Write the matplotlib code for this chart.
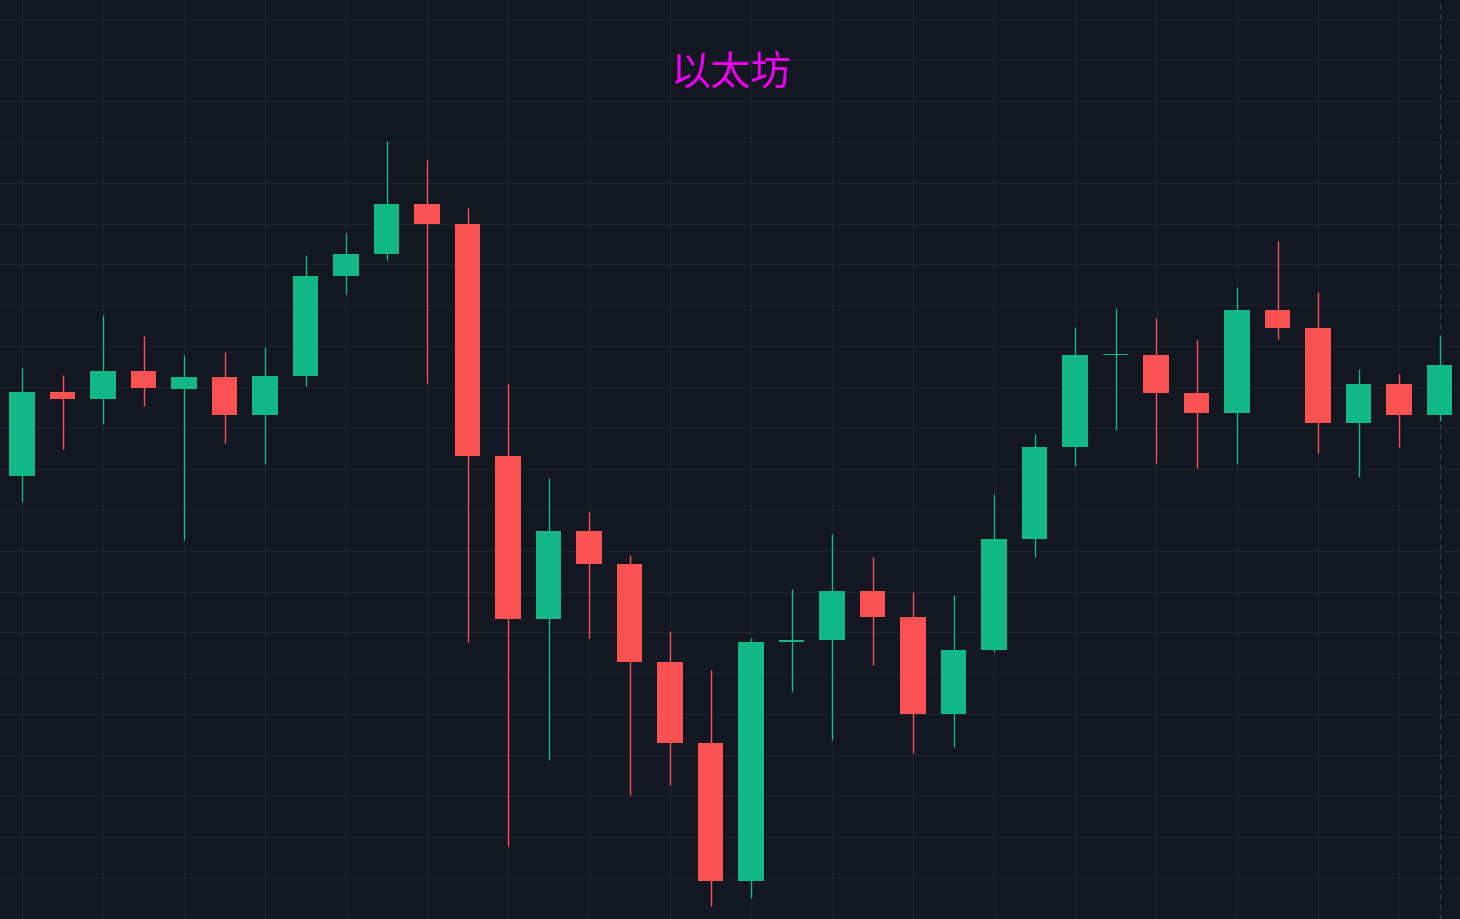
import matplotlib
matplotlib.use("Agg")
import matplotlib.pyplot as plt
import numpy as np

plt.rcParams['font.family'] = ['Noto Sans CJK SC', 'DejaVu Sans']

opens  = [521,605,598,626,608,620,582,621,721,743,793,773,541,378,466,433,335,254,116,355,357,406,380,283,347,458,550,642,642,604,584,687,669,574,613,582]
highs  = [629,622,682,661,642,645,650,742,764,856,837,789,613,519,485,442,366,327,359,408,463,440,405,402,503,563,670,689,679,657,710,756,705,628,623,661]
lows   = [495,548,573,591,457,554,533,611,703,737,614,355,151,237,359,202,212,91,99,305,257,332,244,250,345,440,531,567,534,529,533,658,544,520,550,576]
closes = [605,598,626,609,620,582,621,721,743,793,773,541,378,466,433,335,254,116,355,357,406,380,283,347,458,550,642,643,604,584,687,669,574,613,582,632]

UP, DOWN = '#12b886', '#fa5252'
fig = plt.figure(figsize=(14.6, 9.2), dpi=100)
fig.patch.set_facecolor('#131722')
ax = fig.add_axes([0, 0, 1, 1])
ax.set_facecolor('#131722')
n = len(opens)
x = np.arange(n)
for i in range(n):
    c = UP if closes[i] >= opens[i] else DOWN
    ax.vlines(x[i], lows[i], highs[i], color=c, lw=1, zorder=2)
    b = min(opens[i], closes[i]); h = max(abs(closes[i]-opens[i]), 1.5)
    ax.bar(x[i], h, bottom=b, width=0.62, color=c, zorder=3)

step = 40.5
ax.set_xlim(-22/step, (1460-22)/step)
ax.set_ylim(78, 998)
for gx in np.arange(0, n, 2):
    ax.axvline(gx, color='#1f2431', lw=0.8, zorder=0)
for gy in np.arange(1000-22, 80, -40.9):
    ax.axhline(gy, color='#1f2431', lw=0.8, zorder=0)
ax.axvline(x[-1], color='#3a4058', lw=0.9, ls=(0, (4, 4)), zorder=1)
ax.set_xticks([]); ax.set_yticks([])
for s in ax.spines.values():
    s.set_visible(False)
ax.text(0.5, 1-73/920, '以太坊', transform=ax.transAxes, ha='center', va='center',
        fontsize=29, color='#f000f0')
fig.savefig('out.png', dpi=100, facecolor=fig.get_facecolor())
